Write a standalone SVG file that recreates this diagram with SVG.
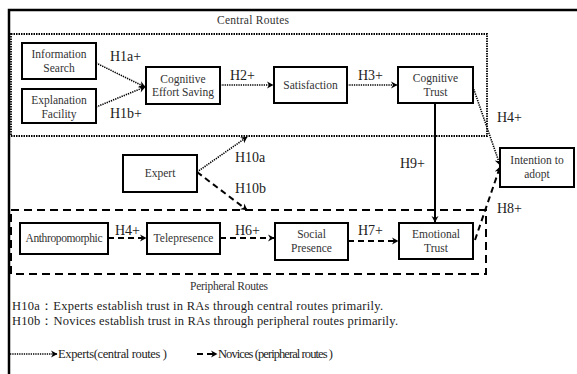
<svg xmlns="http://www.w3.org/2000/svg" width="577" height="374" viewBox="0 0 577 374">
<defs>
<marker id="ah" markerWidth="8" markerHeight="8" refX="6.5" refY="4" orient="auto" markerUnits="userSpaceOnUse">
<path d="M0.5,0.5 L7,4 L0.5,7.5 L2.5,4 z" fill="#000"/>
</marker>
</defs>
<style>
.box{fill:#fff;stroke:#000;stroke-width:2}
.t{font-family:"Liberation Serif","DejaVu Serif","Times New Roman",serif;font-size:11.5px;fill:#333;text-anchor:middle}
.lab{font-family:"Liberation Serif","DejaVu Serif","Times New Roman",serif;font-size:14px;fill:#222}
.note{font-family:"Liberation Serif","DejaVu Serif","Times New Roman",serif;font-size:12.5px;fill:#222}
.dot{fill:none;stroke:#000;stroke-width:1.6;stroke-dasharray:1.3,1}
.dash{fill:none;stroke:#000;stroke-width:2;stroke-dasharray:6,4}
.solid{fill:none;stroke:#000;stroke-width:2}
</style>
<rect width="577" height="374" fill="#fff"/>
<path d="M9,374 L9,10 L577,10" fill="none" stroke="#000" stroke-width="2.5"/>
<g id="central-routes">
<rect x="11" y="34" width="476" height="102" fill="none" stroke="#000" stroke-width="1.8" stroke-dasharray="1.5,1"/>
<text class="t" x="253" y="24" font-size="10.5" textLength="72">Central Routes</text>
</g>
<g id="peripheral-routes">
<rect x="11" y="210" width="475" height="64" fill="none" stroke="#000" stroke-width="2" stroke-dasharray="8,5"/>
<text class="t" x="229" y="290" font-size="10.5" textLength="78">Peripheral Routes</text>
</g>
<g id="connectors">
<line class="dot" x1="96" y1="63" x2="145" y2="87" marker-end="url(#ah)"/>
<line class="dot" x1="96" y1="107" x2="145" y2="87" marker-end="url(#ah)"/>
<line class="dot" x1="220" y1="85" x2="273" y2="85" marker-end="url(#ah)"/>
<line class="dot" x1="347" y1="85" x2="397" y2="85" marker-end="url(#ah)"/>
<line class="dot" x1="473" y1="87" x2="500" y2="165" marker-end="url(#ah)"/>
<line class="solid" x1="435" y1="103" x2="435" y2="222" marker-end="url(#ah)"/>
<line class="dash" x1="475" y1="240" x2="500" y2="167" marker-end="url(#ah)"/>
<line class="dot" x1="197" y1="172" x2="247" y2="137" marker-end="url(#ah)"/>
<line class="dash" x1="197" y1="172" x2="247" y2="210" marker-end="url(#ah)"/>
<line class="dash" x1="108" y1="238" x2="146" y2="238" marker-end="url(#ah)"/>
<line class="dash" x1="220" y1="238" x2="274" y2="238" marker-end="url(#ah)"/>
<line class="dash" x1="348" y1="241" x2="398" y2="241" marker-end="url(#ah)"/>
<text class="lab" x="110" y="61">H1a+</text>
<text class="lab" x="110" y="118">H1b+</text>
<text class="lab" x="230" y="80">H2+</text>
<text class="lab" x="358" y="80">H3+</text>
<text class="lab" x="497" y="122">H4+</text>
<text class="lab" x="400" y="168">H9+</text>
<text class="lab" x="497" y="213">H8+</text>
<text class="lab" x="235" y="162">H10a</text>
<text class="lab" x="235" y="193">H10b</text>
<text class="lab" x="115" y="235">H4+</text>
<text class="lab" x="235" y="235">H6+</text>
<text class="lab" x="358" y="235">H7+</text>
</g>
<g id="information-search">
<rect class="box" x="22" y="43" width="74" height="36"/>
<text class="t" x="59" y="58">Information</text>
<text class="t" x="59" y="72">Search</text>
</g>
<g id="explanation-facility">
<rect class="box" x="22" y="89" width="74" height="34"/>
<text class="t" x="59" y="104">Explanation</text>
<text class="t" x="59" y="118">Facility</text>
</g>
<g id="cognitive-effort-saving">
<rect class="box" x="146" y="67" width="74" height="37"/>
<text class="t" x="183" y="83">Cognitive</text>
<text class="t" x="183" y="96">Effort Saving</text>
</g>
<g id="satisfaction">
<rect class="box" x="274" y="67" width="73" height="36"/>
<text class="t" x="310.5" y="89">Satisfaction</text>
</g>
<g id="cognitive-trust">
<rect class="box" x="398" y="67" width="75" height="36"/>
<text class="t" x="435.5" y="82">Cognitive</text>
<text class="t" x="435.5" y="96">Trust</text>
</g>
<g id="intention-to-adopt">
<rect class="box" x="500" y="148" width="74" height="39"/>
<text class="t" x="537" y="164">Intention to</text>
<text class="t" x="537" y="178">adopt</text>
</g>
<g id="expert">
<rect class="box" x="123" y="155" width="74" height="37"/>
<text class="t" x="160" y="177">Expert</text>
</g>
<g id="anthropomorphic">
<rect class="box" x="20" y="223" width="88" height="31"/>
<text class="t" x="64" y="242" font-size="10.5" textLength="77">Anthropomorphic</text>
</g>
<g id="telepresence">
<rect class="box" x="147" y="223" width="73" height="31"/>
<text class="t" x="183.5" y="242">Telepresence</text>
</g>
<g id="social-presence">
<rect class="box" x="275" y="223" width="73" height="37"/>
<text class="t" x="311.5" y="238">Social</text>
<text class="t" x="311.5" y="252">Presence</text>
</g>
<g id="emotional-trust">
<rect class="box" x="399" y="223" width="74" height="36"/>
<text class="t" x="436" y="238">Emotional</text>
<text class="t" x="436" y="252">Trust</text>
</g>
<g id="notes">
<text class="note" x="12" y="310" textLength="371">H10a：Experts establish trust in RAs through central routes primarily.</text>
<text class="note" x="12" y="325" textLength="386">H10b：Novices establish trust in RAs through peripheral routes primarily.</text>
</g>
<g id="legend">
<line class="dot" x1="10" y1="354" x2="57" y2="354" marker-end="url(#ah)"/>
<text class="note" x="58" y="358" textLength="109">Experts(central routes )</text>
<line class="dash" x1="197" y1="354" x2="217" y2="354" stroke-dasharray="5,3" marker-end="url(#ah)"/>
<text class="note" x="218" y="358" textLength="115">Novices (peripheral routes )</text>
</g>
</svg>
